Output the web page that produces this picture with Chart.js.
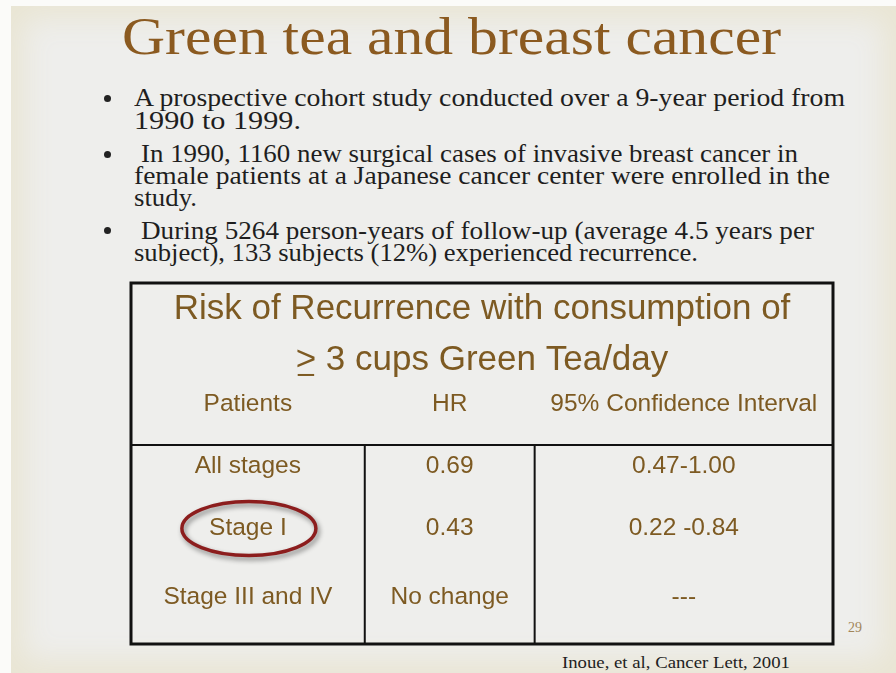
<!DOCTYPE html>
<html>
<head>
<meta charset="utf-8">
<script src="https://cdn.jsdelivr.net/npm/chart.js@4.4.1/dist/chart.umd.min.js"></script>
<style>
  html, body { margin:0; padding:0; width:896px; height:673px; overflow:hidden; background:#fbfbf9; }
  #slide { position:relative; width:896px; height:673px; }
  #bg { position:absolute; left:11px; top:6px; width:885px; height:667px;
    background:#eeeeec; box-shadow: inset 0 0 30px 12px #e9e5d3; }
  .ln { position:absolute; white-space:nowrap; line-height:1; transform-origin:0 0;
    font-family:"Liberation Serif", "Times New Roman", serif; color:#1e1e1e; }
  .dot { position:absolute; width:7px; height:7px; border-radius:50%; background:#222; }
  #title { color:#8b5a20; font-size:53px; }
  #cite { font-size:17px; color:#222; }
  #page { font-size:14px; color:#a2865a; }
  #tbl { position:absolute; left:0; top:0; }
</style>
</head>
<body>
<div id="slide">
  <div id="bg"></div>
  <div class="ln" id="title" data-x="122" data-b="54" data-w="659">Green tea and breast cancer</div>

  <div class="dot" style="left:104px;top:95px"></div>
  <div class="ln bl" data-x="134" data-b="107" data-w="711">A prospective cohort study conducted over a 9-year period from</div>
  <div class="ln bl" data-x="134" data-b="130" data-w="167">1990 to 1999.</div>

  <div class="dot" style="left:104px;top:151px"></div>
  <div class="ln bl" data-x="141" data-b="163" data-w="657">In 1990, 1160 new surgical cases of invasive breast cancer in</div>
  <div class="ln bl" data-x="134" data-b="185" data-w="696">female patients at a Japanese cancer center were enrolled in the</div>
  <div class="ln bl" data-x="134" data-b="207" data-w="63">study.</div>

  <div class="dot" style="left:104px;top:227px"></div>
  <div class="ln bl" data-x="141" data-b="240" data-w="673">During 5264 person-years of follow-up (average 4.5 years per</div>
  <div class="ln bl" data-x="134" data-b="262" data-w="564">subject), 133 subjects (12%) experienced recurrence.</div>

  <div class="ln" id="page" data-x="848" data-b="633" data-w="14">29</div>
  <div class="ln" id="cite" data-x="562" data-b="668" data-w="228">Inoue, et al, Cancer Lett, 2001</div>

  <canvas id="tbl" width="896" height="673"></canvas>
</div>

<script>
// table content
const tableTitle = ['Risk of Recurrence with consumption of', '> 3 cups Green Tea/day'];
const columns = ['Patients', 'HR', '95% Confidence Interval'];
const patients = ['All stages', 'Stage I', 'Stage III and IV'];
const hrLabels = ['0.69', '0.43', 'No change'];
const ciLabels = ['0.47-1.00', '0.22 -0.84', '---'];
const highlighted = 'Stage I';

// layout (table units: x 0..1 across, y rows down)
const colEdges = [0, 0.333, 0.575, 1];
const headBottom = 2.44;
const rowPos = [2.76, 3.70, 4.74];
const BROWN = '#7d5a22';
const SANS = '"Liberation Sans", Arial, sans-serif';

// fit slide text lines to their widths
document.querySelectorAll('.ln').forEach(el => {
  if (el.classList.contains('bl')) el.style.fontSize = '26px';
  const size = parseFloat(getComputedStyle(el).fontSize);
  el.style.left = el.dataset.x + 'px';
  el.style.top = (el.dataset.b - 0.8375*size) + 'px';
  const w = el.getBoundingClientRect().width;
  el.style.transform = 'scaleX(' + (el.dataset.w / w) + ')';
});

const colMid = i => (colEdges[i] + colEdges[i+1]) / 2;
const cellSets = [patients, hrLabels, ciLabels].map((labels, c) => ({
  label: columns[c],
  texts: labels,
  data: labels.map((_, i) => ({ x: colMid(c), y: rowPos[i] })),
  pointRadius: 0
}));

const tablePlugin = {
  id: 'tablePlugin',
  afterDatasetsDraw(chart) {
    const ctx = chart.ctx, xs = chart.scales.x, ys = chart.scales.y, a = chart.chartArea;
    ctx.save();
    // grid
    ctx.strokeStyle = '#111';
    ctx.lineWidth = 2;
    const yh = ys.getPixelForValue(headBottom);
    ctx.beginPath();
    ctx.moveTo(a.left, yh); ctx.lineTo(a.right, yh);
    [1, 2].forEach(i => {
      const x = xs.getPixelForValue(colEdges[i]);
      ctx.moveTo(x, yh); ctx.lineTo(x, a.bottom);
    });
    ctx.stroke();
    ctx.lineWidth = 3;
    ctx.strokeRect(a.left, a.top, a.right - a.left, a.bottom - a.top);

    ctx.fillStyle = BROWN;
    ctx.textAlign = 'center';
    ctx.textBaseline = 'middle';
    const xc = xs.getPixelForValue(0.5);
    ctx.font = '35px ' + SANS;
    ctx.fillText(tableTitle[0], xc, ys.getPixelForValue(0.39));
    const y2 = ys.getPixelForValue(1.16);
    ctx.fillText(tableTitle[1], xc, y2);
    // underline under '>'
    const w2 = ctx.measureText(tableTitle[1]).width;
    const gw = ctx.measureText('>').width;
    const gx = xc - w2 / 2;
    ctx.fillRect(gx + 2, y2 + 14, gw - 4, 2);

    ctx.font = '24.5px ' + SANS;
    columns.forEach((c, i) => ctx.fillText(c, xs.getPixelForValue(colMid(i)), ys.getPixelForValue(1.82)));

    chart.data.datasets.forEach((ds, d) => {
      chart.getDatasetMeta(d).data.forEach((el, i) => {
        ctx.fillStyle = BROWN;
        ctx.fillText(ds.texts[i], el.x, el.y);
        if (ds.texts[i] === highlighted) {
          ctx.save();
          ctx.strokeStyle = '#8c1d1d';
          ctx.lineWidth = 3.5;
          ctx.shadowColor = 'rgba(0,0,0,0.45)';
          ctx.shadowBlur = 5;
          ctx.shadowOffsetX = 2;
          ctx.shadowOffsetY = 3;
          ctx.beginPath();
          ctx.ellipse(el.x + 1, el.y, 67, 27, 0, 0, Math.PI * 2);
          ctx.stroke();
          ctx.restore();
        }
      });
    });
    ctx.restore();
  }
};

new Chart(document.getElementById('tbl'), {
  type: 'scatter',
  data: { datasets: cellSets },
  options: {
    responsive: false, animation: false, events: [],
    layout: { padding: { left: 131, top: 283, right: 63, bottom: 29 } },
    plugins: { legend: { display: false }, tooltip: { enabled: false } },
    scales: {
      x: { type: 'linear', min: 0, max: 1, display: false },
      y: { type: 'linear', min: 0, max: 5.44, reverse: true, display: false }
    }
  },
  plugins: [tablePlugin]
});
</script>
</body>
</html>
